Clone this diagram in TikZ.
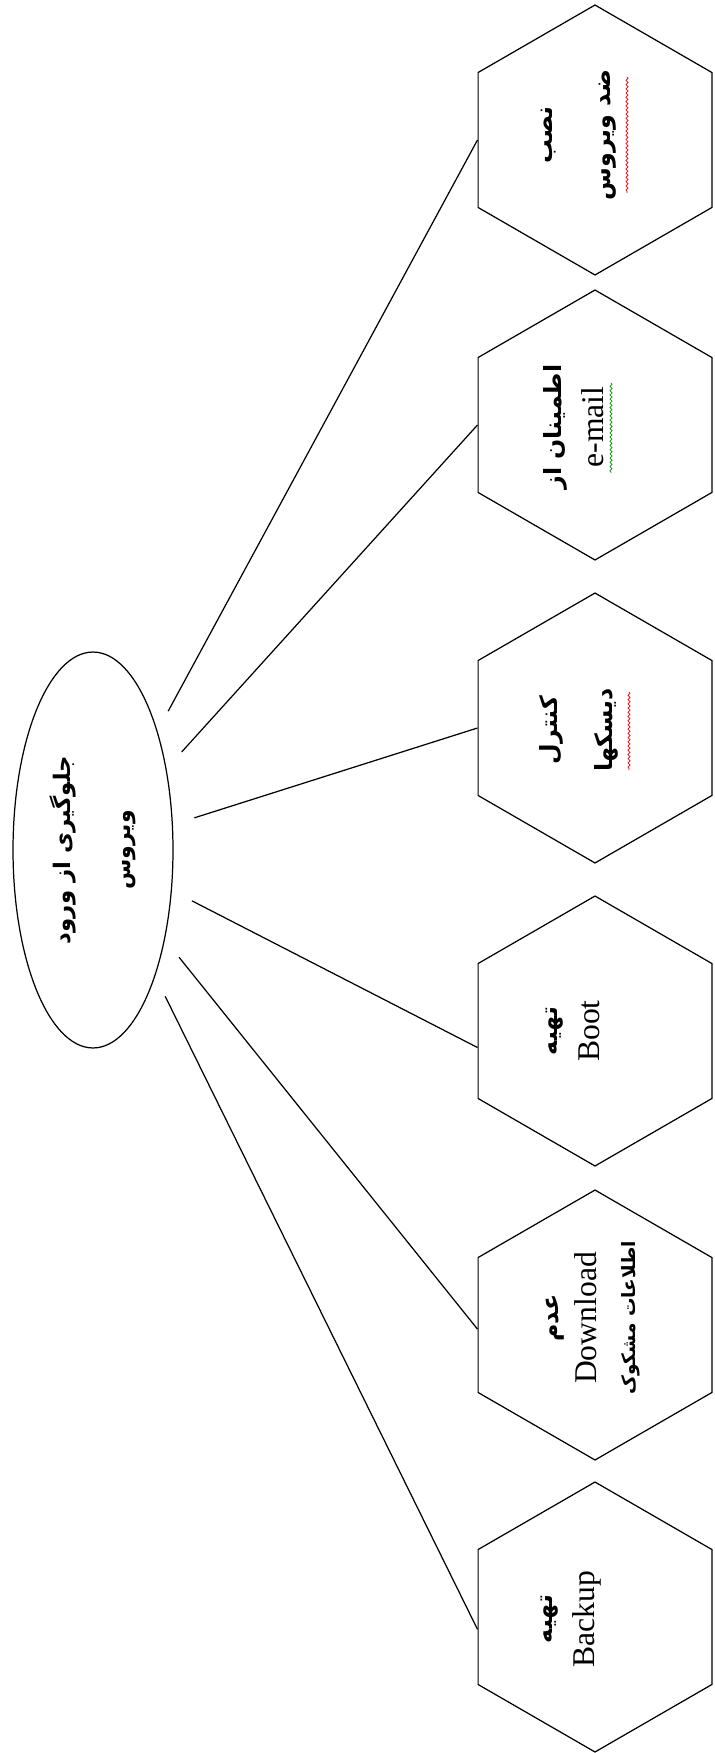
\documentclass[tikz,border=0pt]{standalone}
\usepackage{fontspec}
\setmainfont{Liberation Serif}
\newfontfamily\farsi[Script=Arabic]{DejaVu Sans}
\TeXXeTstate=1
\usetikzlibrary{shapes.geometric, decorations.pathmorphing}

\newcommand{\fa}[2][13.5]{{\farsi\bfseries\fontsize{#1}{#1}\selectfont\beginR #2\endR}}

\begin{document}
\begin{tikzpicture}[
    x=0.02cm,
    y=-0.02cm,
    line width=0.7pt,
    hexbox/.style={draw, regular polygon, regular polygon sides=6,
        minimum size=5.4cm, inner sep=0pt, rotate=90},
    hexlabel/.style={rotate=90, align=center, inner sep=0pt,
        font=\fontsize{18}{24}\selectfont},
    rootbox/.style={draw, ellipse, minimum width=7.92cm, minimum height=3.2cm,
        inner sep=0pt, rotate=90, align=center, font=\fontsize{13}{34}\selectfont},
    link/.style={shorten <=0.45cm},
    squiggle/.style={line width=0.4pt, decorate,
        decoration={snake, amplitude=0.6pt, segment length=2.4pt}}
]

% page frame
\useasboundingbox (0,0) rectangle (715,1753);

% root
\node[rootbox] (root) at (93,850) {\fa[13]{جلوگیری از ورود}\\\fa[12.5]{ویروس}};

% hexagons, top to bottom
\node[hexbox] (hex1) at (595,140)  {};
\node[hexbox] (hex2) at (595,425)  {};
\node[hexbox] (hex3) at (595,728)  {};
\node[hexbox] (hex4) at (595,1031) {};
\node[hexbox] (hex5) at (595,1325) {};
\node[hexbox] (hex6) at (595,1617) {};

% their texts
\node[hexlabel] (txt1) at (579,135)  {\fa{نصب}\\[9pt]\fa{ضد ویروس}};
\node[hexlabel] (txt2) at (574,427)  {\fa{اطمینان از}\\e-mail};
\node[hexlabel] (txt3) at (579,730)  {\fa{کنترل}\\[7pt]\fa{دیسکها}};
\node[hexlabel] (txt4) at (573,1031) {\fa{تهیه}\\Boot};
\node[hexlabel] (txt5) at (593,1318) {\fa{عدم}\\[-2pt]Download\\[-2pt]\fa[10.5]{اطلاعات مشکوک}};
\node[hexlabel] (txt6) at (571,1619) {\fa{تهیه}\\Backup};

% links (angle = where they meet the left side)
\foreach \n/\a in {1/90, 2/90, 3/90, 4/98, 5/92, 6/96}
    \draw[link] (root) -- (hex\n.\a);

% spelling marks
\draw[squiggle, red] (627,77) -- (627,193);
\draw[squiggle, green!60!black] (611,383) -- (611,473);
\draw[squiggle, red] (629,692) -- (629,770);

\end{tikzpicture}
\end{document}
